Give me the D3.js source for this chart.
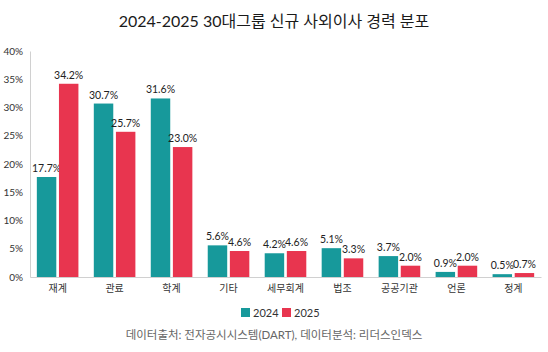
<!DOCTYPE html>
<html lang="ko">
<head>
<meta charset="UTF-8">
<title>2024-2025 30대그룹 신규 사외이사 경력 분포</title>
<style>
    body { margin: 0; background: #fff; }
    text { font-family: Lato, 'Noto Sans CJK KR', sans-serif; }
</style>
</head>
<body>
<div id="chart"></div>
<script src="https://cdn.jsdelivr.net/npm/d3@7"></script>
<script>
    // data
    var categories = ["재계", "관료", "학계", "기타", "세무회계", "법조", "공공기관", "언론", "정계"];
    var years = ["2024", "2025"];
    var values2024 = [17.7, 30.7, 31.6, 5.6, 4.2, 5.1, 3.7, 0.9, 0.5];
    var values2025 = [34.2, 25.7, 23.0, 4.6, 4.6, 3.3, 2.0, 2.0, 0.7];
    var yTicks = [0, 5, 10, 15, 20, 25, 30, 35, 40];
    var colors = ["#17999b", "#e8354f"];

    var width = 548, height = 352;
    var margin = {top: 51, right: 7, bottom: 75, left: 30};

    var svg = d3.select("#chart").append("svg")
        .attr("width", width)
        .attr("height", height);

    var x = d3.scaleBand()
        .domain(categories)
        .range([margin.left, width - margin.right])
        .paddingInner(0.27)
        .paddingOuter(0.12);

    var xSub = d3.scaleBand()
        .domain(years)
        .range([0, x.bandwidth()])
        .paddingInner(0.12);

    var y = d3.scaleLinear()
        .domain([0, 40])
        .range([height - margin.bottom, margin.top]);

    // title
    svg.append("text")
        .attr("x", width / 2)
        .attr("y", 27)
        .attr("text-anchor", "middle")
        .style("font-size", "16px")
        .style("fill", "#1a1a1a")
        .text("2024-2025 30대그룹 신규 사외이사 경력 분포");

    // y axis
    var yAxis = svg.append("g")
        .attr("transform", "translate(" + margin.left + ",0)")
        .call(d3.axisLeft(y).tickValues(yTicks).tickSize(0).tickPadding(7)
            .tickFormat(function(d) { return d + "%"; }));
    yAxis.select(".domain").attr("stroke", "#d0d0d0");
    yAxis.selectAll("text").style("font-size", "10px").style("fill", "#333");

    // bars
    var series = [values2024, values2025];
    var groups = svg.append("g").selectAll("g")
        .data(categories)
        .enter().append("g")
        .attr("transform", function(d) { return "translate(" + x(d) + ",0)"; });

    years.forEach(function(yr, k) {
        groups.append("rect")
            .attr("x", xSub(yr))
            .attr("y", function(d, i) { return y(series[k][i]); })
            .attr("width", xSub.bandwidth())
            .attr("height", function(d, i) { return y(0) - y(series[k][i]); })
            .attr("fill", colors[k]);

        groups.append("text")
            .attr("x", xSub(yr) + xSub.bandwidth() / 2)
            .attr("y", function(d, i) { return y(series[k][i]) - 5; })
            .attr("text-anchor", "middle")
            .style("font-size", "10.5px")
            .style("fill", "#222")
            .text(function(d, i) { return series[k][i].toFixed(1) + "%"; });
    });

    // x axis
    var xAxis = svg.append("g")
        .attr("transform", "translate(0," + y(0) + ")")
        .call(d3.axisBottom(x).tickSize(0).tickPadding(8));
    xAxis.select(".domain").attr("stroke", "#d0d0d0");
    xAxis.selectAll("text").style("font-size", "10px").style("fill", "#333");

    // legend
    var legend = svg.append("g").attr("transform", "translate(241,308)");
    var items = legend.selectAll("g")
        .data(years)
        .enter().append("g")
        .attr("transform", function(d, i) { return "translate(" + (i * 41) + ",0)"; });
    items.append("rect")
        .attr("width", 9)
        .attr("height", 9)
        .attr("fill", function(d, i) { return colors[i]; });
    items.append("text")
        .attr("x", 12)
        .attr("y", 9)
        .style("font-size", "11px")
        .style("fill", "#333")
        .text(function(d) { return d; });

    // source note
    svg.append("text")
        .attr("x", width / 2)
        .attr("y", 339)
        .attr("text-anchor", "middle")
        .style("font-size", "11.5px")
        .style("fill", "#666")
        .text("데이터출처: 전자공시시스템(DART), 데이터분석: 리더스인덱스");
</script>
</body>
</html>
